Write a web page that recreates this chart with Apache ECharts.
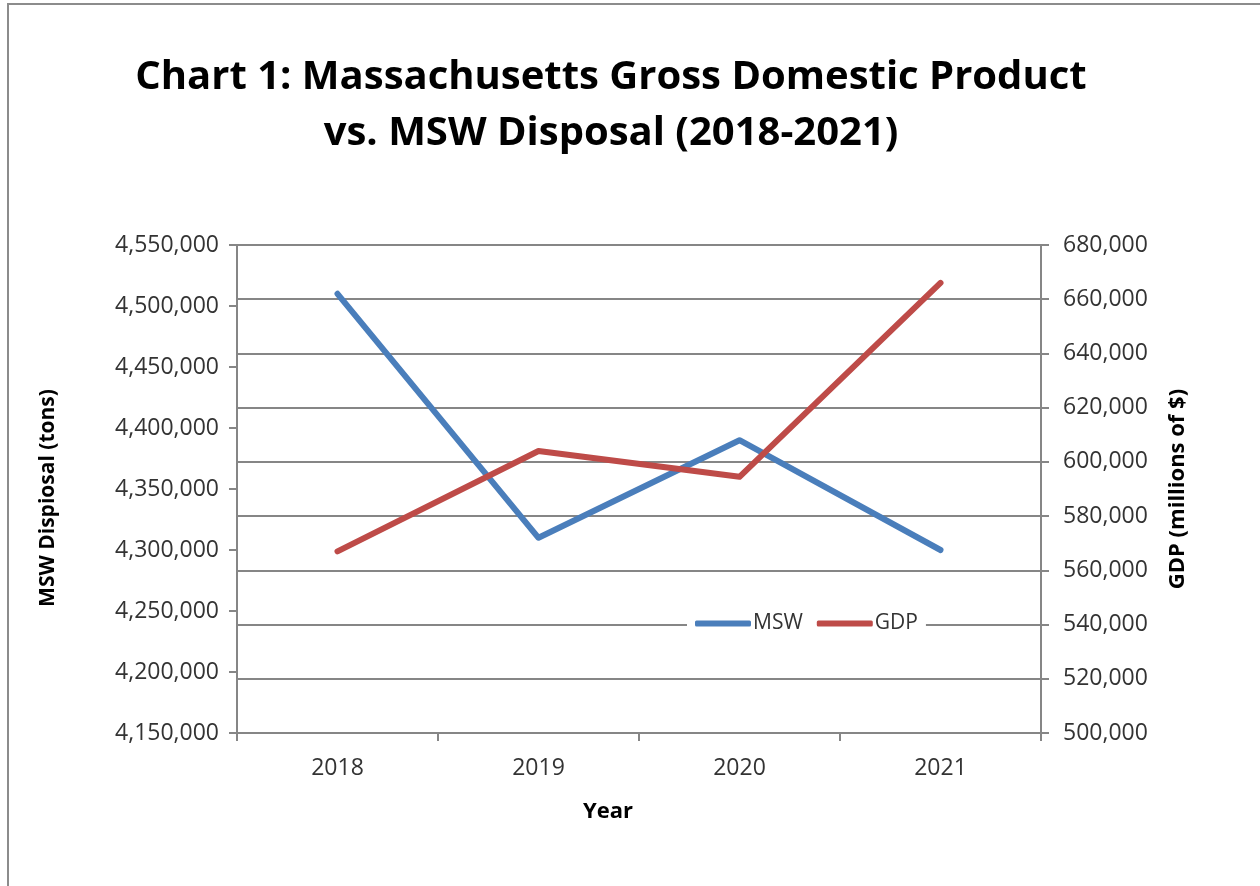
<!DOCTYPE html>
<html>
<head>
<meta charset="utf-8">
<script src="https://cdn.jsdelivr.net/npm/echarts@6/dist/echarts.min.js"></script>
<style>
html,body{margin:0;padding:0;background:#fff;}
#main{width:1260px;height:886px;}
</style>
</head>
<body>
<div id="main"></div>
<script>
const years = ['2018', '2019', '2020', '2021'];
const mswTons = [4510000, 4310000, 4390000, 4300000];
const gdpMillions = [567000, 604000, 594500, 666000];

const fmt = v => String(v).replace(/\B(?=(\d{3})+(?!\d))/g, ',');
const FONT = '"Open Sans", sans-serif';
const AXIS_GRAY = '#868686';

const chart = echarts.init(document.getElementById('main'), null, {renderer: 'canvas'});
chart.setOption({
  backgroundColor: '#fff',
  animation: false,
  graphic: [{
    type: 'rect',
    shape: {x: 8, y: 4, width: 1400, height: 1000},
    style: {fill: 'none', stroke: '#8c8c8c', lineWidth: 2},
    z: -1
  }],
  title: {
    text: 'Chart 1: Massachusetts Gross Domestic Product\nvs. MSW Disposal (2018-2021)',
    left: 606,
    textAlign: 'center',
    top: 45,
    textStyle: {fontFamily: FONT, fontWeight: 'bold', fontSize: 40, lineHeight: 56, color: '#000'}
  },
  legend: {
    data: ['MSW', 'GDP'],
    left: 687,
    top: 608,
    backgroundColor: '#fff',
    padding: [5, 8, 5, 8],
    itemGap: 14,
    itemWidth: 56,
    itemHeight: 6,
    icon: 'roundRect',
    textStyle: {fontFamily: FONT, fontSize: 21, color: '#333', padding: [0, 0, 0, -3]}
  },
  grid: {left: 237, right: 219, top: 245, bottom: 153, containLabel: false},
  xAxis: {
    type: 'category',
    data: years,
    boundaryGap: true,
    name: 'Year',
    nameLocation: 'middle',
    nameGap: 68,
    nameTextStyle: {fontFamily: FONT, fontWeight: 'bold', fontSize: 22, color: '#000', padding: [0, 62, 0, 0]},
    axisLine: {lineStyle: {color: AXIS_GRAY, width: 2}},
    axisTick: {show: true, length: 8, lineStyle: {color: AXIS_GRAY, width: 2}},
    axisLabel: {fontFamily: FONT, fontSize: 23, color: '#333', margin: 24},
    splitLine: {show: false}
  },
  yAxis: [{
    type: 'value',
    position: 'left',
    min: 4150000, max: 4550000, interval: 50000,
    name: 'MSW Dispiosal (tons)',
    nameLocation: 'middle',
    nameRotate: 90,
    nameGap: 178,
    nameTextStyle: {fontFamily: FONT, fontWeight: 'bold', fontSize: 21, color: '#000', padding: [0, 18, 0, 0]},
    axisLine: {show: true, lineStyle: {color: AXIS_GRAY, width: 2}},
    axisTick: {show: true, length: 8, lineStyle: {color: AXIS_GRAY, width: 2}},
    axisLabel: {formatter: fmt, fontFamily: FONT, fontSize: 23, color: '#333', margin: 18},
    splitLine: {show: false}
  }, {
    type: 'value',
    position: 'right',
    min: 500000, max: 680000, interval: 20000,
    name: 'GDP (millions of $)',
    nameLocation: 'middle',
    nameRotate: 90,
    nameGap: 126,
    nameTextStyle: {fontFamily: FONT, fontWeight: 'bold', fontSize: 22, color: '#000'},
    axisLine: {show: true, lineStyle: {color: AXIS_GRAY, width: 2}},
    axisTick: {show: true, length: 8, lineStyle: {color: AXIS_GRAY, width: 2}},
    axisLabel: {formatter: fmt, fontFamily: FONT, fontSize: 23, color: '#333', margin: 22},
    splitLine: {show: true, lineStyle: {color: AXIS_GRAY, width: 2}}
  }],
  series: [{
    name: 'MSW',
    type: 'line',
    yAxisIndex: 0,
    data: mswTons,
    showSymbol: false,
    symbol: 'none',
    color: '#4a7ebb',
    lineStyle: {color: '#4a7ebb', width: 6, cap: 'round', join: 'round'},
    z: 3
  }, {
    name: 'GDP',
    type: 'line',
    yAxisIndex: 1,
    data: gdpMillions,
    showSymbol: false,
    symbol: 'none',
    color: '#be4b48',
    lineStyle: {color: '#be4b48', width: 6, cap: 'round', join: 'round'},
    z: 4
  }]
});
</script>
</body>
</html>
